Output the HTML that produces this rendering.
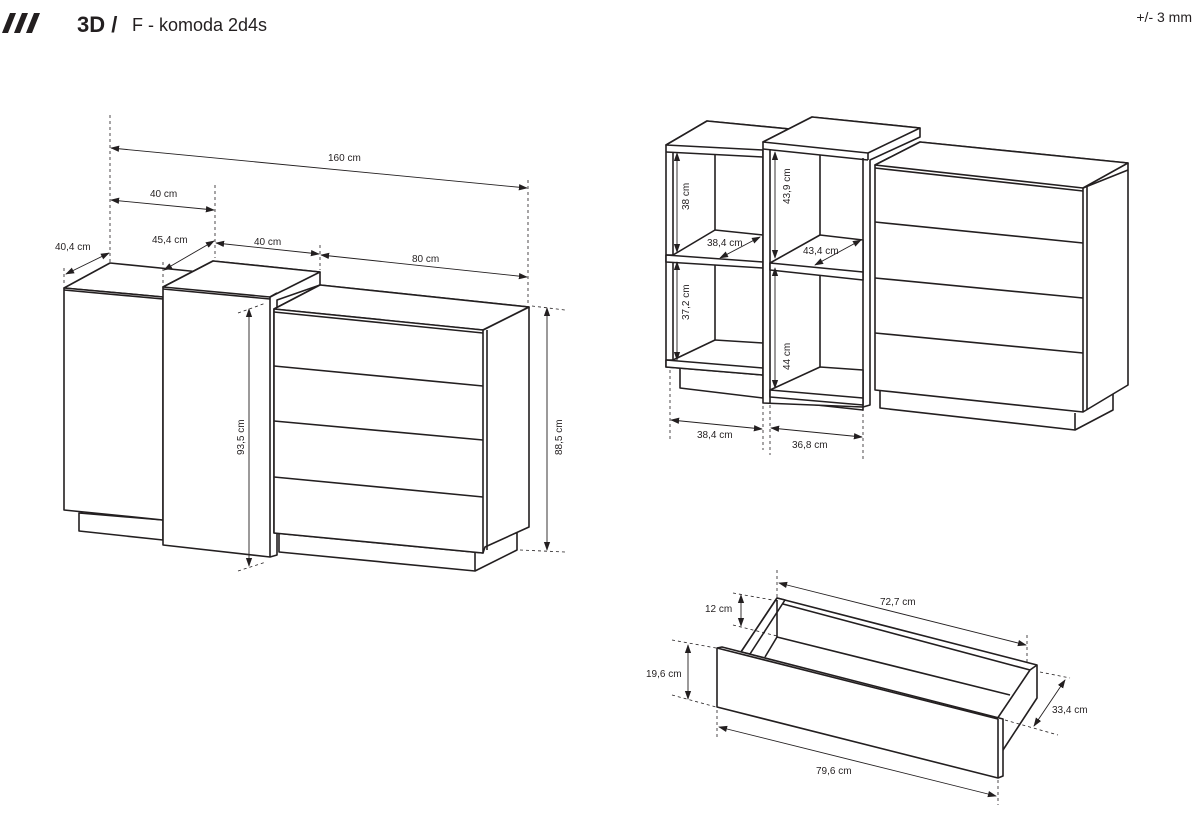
<!DOCTYPE html>
<html><head><meta charset="utf-8"><style>
html,body{margin:0;padding:0;background:#fff;}
svg{display:block;font-family:"Liberation Sans",sans-serif;}
.o{fill:#fff;stroke:#231f20;stroke-width:1.6;stroke-linejoin:round}
.l{fill:none;stroke:#231f20;stroke-width:1.6}
.d{fill:none;stroke:#231f20;stroke-width:0.9;marker-start:url(#a);marker-end:url(#a)}
.x{fill:none;stroke:#231f20;stroke-width:0.8;stroke-dasharray:3 3}
text.t{font-size:10px;fill:#231f20}
</style></head><body>
<svg width="1200" height="814" viewBox="0 0 1200 814">
<defs><marker id="a" viewBox="0 0 10 10" refX="9" refY="5" markerWidth="9" markerHeight="9" orient="auto-start-reverse" markerUnits="userSpaceOnUse"><path d="M0,1.5L10,5L0,8.5z" fill="#231f20"/></marker></defs>

<!-- header -->
<polygon points="2,33 10,13 16,13 8,33" fill="#231f20"/>
<polygon points="14,33 22,13 28,13 20,33" fill="#231f20"/>
<polygon points="26,33 34,13 40,13 32,33" fill="#231f20"/>
<text x="77" y="32" font-size="22" font-weight="bold" fill="#231f20">3D /</text>
<text x="132" y="31" font-size="18" fill="#231f20">F - komoda 2d4s</text>
<text x="1192" y="22" font-size="14" fill="#231f20" text-anchor="end">+/- 3 mm</text>

<!-- LEFT DRAWING -->
<polygon class="o" points="79,513 79,531 163,540 163,520"/>
<polygon class="o" points="64,288 110,263 200,272 163,297"/>
<polygon class="o" points="64,288 163,297 163,520 64,510"/>
<line class="l" x1="64" y1="290" x2="163" y2="299"/>
<polygon class="o" points="163,287 213,261 320,272 320,285 277,300 277,555 270,557 163,545"/>
<polygon class="o" points="163,287 213,261 320,272 270,297"/>
<line class="l" x1="270" y1="297" x2="270" y2="557"/>
<line class="l" x1="270" y1="297" x2="277" y2="293"/>
<line class="l" x1="163" y1="289" x2="270" y2="299"/>
<polygon class="o" points="279,533 279,552 475,571 517,550 517,533"/>
<line class="l" x1="475" y1="553" x2="475" y2="571"/>
<polygon class="o" points="274,309 320,285 529,307 529,527 485,547 483,553 274,533"/>
<polygon class="o" points="274,309 320,285 529,307 483,330"/>
<polygon class="o" points="274,309 483,330 483,553 274,533"/>
<line class="l" x1="274" y1="312" x2="483" y2="333"/>
<line class="l" x1="483" y1="330" x2="529" y2="307"/>
<line class="l" x1="487" y1="330" x2="487" y2="550"/>
<line class="l" x1="274" y1="366" x2="483" y2="386"/>
<line class="l" x1="274" y1="421" x2="483" y2="440"/>
<line class="l" x1="274" y1="477" x2="483" y2="497"/>
<line class="x" x1="110" y1="115" x2="110" y2="262"/>
<line class="x" x1="528" y1="180" x2="528" y2="305"/>
<line class="x" x1="215" y1="185" x2="215" y2="258"/>
<line class="x" x1="320" y1="245" x2="320" y2="270"/>
<line class="x" x1="64" y1="268" x2="64" y2="286"/>
<line class="x" x1="163" y1="262" x2="163" y2="285"/>
<line class="d" x1="111" y1="148" x2="527" y2="188"/><text class="t" x="328" y="161">160 cm</text>
<line class="d" x1="111" y1="200" x2="214" y2="210"/><text class="t" x="150" y="197">40 cm</text>
<line class="d" x1="66" y1="274" x2="109" y2="253"/><text class="t" x="55" y="250">40,4 cm</text>
<line class="d" x1="164" y1="270" x2="214" y2="241"/><text class="t" x="152" y="243">45,4 cm</text>
<line class="d" x1="216" y1="243" x2="319" y2="254"/><text class="t" x="254" y="245">40 cm</text>
<line class="d" x1="321" y1="255" x2="527" y2="277"/><text class="t" x="412" y="262">80 cm</text>
<line class="x" x1="238" y1="313" x2="266" y2="303"/>
<line class="x" x1="238" y1="571" x2="266" y2="562"/>
<line class="d" x1="249" y1="309" x2="249" y2="566"/>
<text class="t" transform="translate(244,455) rotate(-90)">93,5 cm</text>
<line class="x" x1="532" y1="306" x2="565" y2="310"/>
<line class="x" x1="520" y1="550" x2="565" y2="552"/>
<line class="d" x1="547" y1="308" x2="547" y2="550"/>
<text class="t" transform="translate(562,455) rotate(-90)">88,5 cm</text>

<!-- RIGHT TOP DRAWING -->
<polygon class="o" points="680,367 680,388 763,398 763,375"/>
<polygon class="o" points="666,145 707,121 800,130 763,150 763,375 666,367"/>
<polygon class="o" points="666,145 707,121 800,130 763,150"/>
<line class="l" x1="666" y1="152" x2="763" y2="157"/>
<line class="l" x1="673" y1="152" x2="673" y2="360"/>
<line class="l" x1="715" y1="155" x2="715" y2="340"/>
<polygon class="o" points="673,255 715,230 763,235 763,268 666,262 666,255"/>
<line class="l" x1="666" y1="255" x2="763" y2="262"/>
<polygon class="o" points="673,360 715,340 763,343 763,375 666,367 666,360"/>
<line class="l" x1="666" y1="360" x2="763" y2="368"/>
<polygon class="o" points="770,395 770,400 863,410 863,405"/>
<polygon class="o" points="763,142 812,117 920,128 920,137 870,160 870,405 863,407 763,403"/>
<polygon class="o" points="763,142 812,117 920,128 868,153"/>
<line class="l" x1="868" y1="153" x2="868" y2="160"/>
<line class="l" x1="763" y1="149" x2="868" y2="160"/>
<line class="l" x1="770" y1="149" x2="770" y2="403"/>
<line class="l" x1="863" y1="158" x2="863" y2="407"/>
<line class="l" x1="820" y1="155" x2="820" y2="367"/>
<polygon class="o" points="770,263 820,235 863,240 863,280 770,270"/>
<line class="l" x1="770" y1="263" x2="863" y2="272"/>
<polygon class="o" points="770,390 820,367 863,370 863,405 770,397"/>
<line class="l" x1="770" y1="390" x2="863" y2="398"/>
<polygon class="o" points="880,390 880,408 1075,430 1113,410 1113,393"/>
<line class="l" x1="1075" y1="413" x2="1075" y2="430"/>
<polygon class="o" points="875,165 920,142 1128,163 1128,385 1083,412 875,390"/>
<polygon class="o" points="875,165 920,142 1128,163 1083,188"/>
<line class="l" x1="1083" y1="188" x2="1083" y2="412"/>
<line class="l" x1="1087" y1="186" x2="1087" y2="410"/>
<line class="l" x1="1083" y1="188" x2="1128" y2="170"/>
<line class="l" x1="875" y1="168" x2="1083" y2="191"/>
<line class="l" x1="875" y1="222" x2="1083" y2="243"/>
<line class="l" x1="875" y1="278" x2="1083" y2="298"/>
<line class="l" x1="875" y1="333" x2="1083" y2="353"/>
<line class="x" x1="670" y1="370" x2="670" y2="440"/>
<line class="x" x1="763" y1="400" x2="763" y2="450"/>
<line class="x" x1="770" y1="405" x2="770" y2="455"/>
<line class="x" x1="863" y1="408" x2="863" y2="460"/>
<line class="d" x1="671" y1="420" x2="762" y2="429"/><text class="t" x="697" y="438">38,4 cm</text>
<line class="d" x1="771" y1="428" x2="862" y2="437"/><text class="t" x="792" y="448">36,8 cm</text>
<line class="d" x1="677" y1="153" x2="677" y2="252"/><text class="t" transform="translate(689,210) rotate(-90)">38 cm</text>
<line class="d" x1="677" y1="262" x2="677" y2="360"/><text class="t" transform="translate(689,320) rotate(-90)">37,2 cm</text>
<line class="d" x1="775" y1="152" x2="775" y2="258"/><text class="t" transform="translate(790,204) rotate(-90)">43,9 cm</text>
<line class="d" x1="775" y1="268" x2="775" y2="388"/><text class="t" transform="translate(790,370) rotate(-90)">44 cm</text>
<line class="d" x1="720" y1="258" x2="760" y2="237"/><text class="t" x="707" y="246">38,4 cm</text>
<line class="d" x1="815" y1="265" x2="861" y2="240"/><text class="t" x="803" y="254">43,4 cm</text>

<!-- DRAWER -->
<polygon class="o" points="777,598 1037,665 1037,698 1003,750 998,719 741,652"/>
<polygon class="o" points="741,652 777,598 785,600 750,654"/>
<line class="l" x1="777" y1="600" x2="777" y2="637"/>
<line class="l" x1="783" y1="604" x2="1030" y2="670"/>
<line class="l" x1="777" y1="637" x2="1010" y2="695"/>
<line class="l" x1="765" y1="657" x2="777" y2="637"/>
<line class="l" x1="997" y1="719" x2="1030" y2="670"/>
<line class="l" x1="1030" y1="670" x2="1037" y2="665"/>
<polygon class="o" points="717,648 722,647 1003,719 1003,776 998,778 717,707"/>
<line class="l" x1="998" y1="719" x2="998" y2="778"/>
<line class="l" x1="717" y1="648" x2="998" y2="719"/>
<line class="x" x1="777" y1="570" x2="777" y2="598"/>
<line class="x" x1="1027" y1="635" x2="1027" y2="665"/>
<line class="x" x1="733" y1="593" x2="778" y2="601"/>
<line class="x" x1="733" y1="625" x2="777" y2="636"/>
<line class="x" x1="672" y1="640" x2="716" y2="648"/>
<line class="x" x1="672" y1="695" x2="716" y2="707"/>
<line class="x" x1="717" y1="710" x2="717" y2="740"/>
<line class="x" x1="998" y1="780" x2="998" y2="805"/>
<line class="x" x1="1040" y1="672" x2="1070" y2="678"/>
<line class="x" x1="1005" y1="720" x2="1058" y2="735"/>
<line class="d" x1="779" y1="583" x2="1026" y2="645"/><text class="t" x="880" y="605">72,7 cm</text>
<line class="d" x1="741" y1="595" x2="741" y2="626"/><text class="t" x="705" y="612">12 cm</text>
<line class="d" x1="688" y1="645" x2="688" y2="699"/><text class="t" x="646" y="677">19,6 cm</text>
<line class="d" x1="719" y1="727" x2="996" y2="796"/><text class="t" x="816" y="774">79,6 cm</text>
<line class="d" x1="1065" y1="680" x2="1034" y2="726"/><text class="t" x="1052" y="713">33,4 cm</text>
</svg>
</body></html>
